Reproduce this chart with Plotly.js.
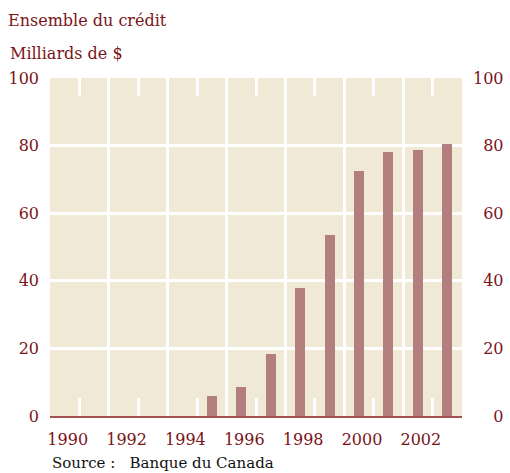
<!DOCTYPE html>
<html>
<head>
<meta charset="utf-8">
<script src="https://cdn.plot.ly/plotly-3.0.1.min.js"></script>
<style>
  html, body { margin: 0; padding: 0; background: #ffffff; }
  #chart { width: 510px; height: 473px; }
</style>
</head>
<body>
<div id="chart"></div>
<script>
// Data
const years = [1995, 1996, 1997, 1998, 1999, 2000, 2001, 2002, 2003];
const credit = [5.8, 8.5, 18.2, 38.0, 53.5, 72.6, 78.2, 78.7, 80.4];
const xTickYears = [1990, 1992, 1994, 1996, 1998, 2000, 2002];
const xTickLabels = ['1990', '1992', '1994', '1996', '1998', '2000', '2002'];
const yTicks = [0, 20, 40, 60, 80, 100];
const gridYears = [1991.5, 1993.5, 1995.5, 1997.5, 1999.5, 2001.5];
const shortTickYears = [1990.5, 1992.5, 1994.5, 1996.5, 1998.5, 2000.5, 2002.5];
const titleText = 'Ensemble du crédit';
const unitText = 'Milliards de $';
const sourceText = 'Source :\u00a0\u00a0\u00a0Banque du Canada';

const darkRed = '#7a1419';
const beige = '#efe9d6';
const barColor = '#b27f7e';
const fontFam = 'DejaVu Serif, serif';
const xRange = [1989.5, 2003.5];

const rightLabels = yTicks.map(v => String(v).padStart(3, '\u2007'));

const traces = [
  {
    type: 'bar', x: years, y: credit, width: 0.34,
    marker: { color: barColor, line: { width: 0 } },
    hoverinfo: 'skip', xaxis: 'x', yaxis: 'y'
  },
  { type: 'scatter', mode: 'markers', x: [], y: [], xaxis: 'x2', yaxis: 'y', hoverinfo: 'skip', showlegend: false },
  { type: 'scatter', mode: 'markers', x: [], y: [], xaxis: 'x3', yaxis: 'y', hoverinfo: 'skip', showlegend: false },
  { type: 'scatter', mode: 'markers', x: [], y: [], xaxis: 'x', yaxis: 'y2', hoverinfo: 'skip', showlegend: false }
];

const layout = {
  width: 510, height: 473,
  margin: { l: 50, r: 48, t: 78, b: 57, pad: 0 },
  paper_bgcolor: '#ffffff',
  plot_bgcolor: beige,
  showlegend: false,
  bargap: 0,
  font: { family: fontFam, color: darkRed, size: 16 },
  xaxis: {
    range: xRange, tickmode: 'array', tickvals: xTickYears, ticktext: xTickLabels,
    showgrid: false, zeroline: false, ticks: '',
    showline: true, linecolor: '#a4524f', linewidth: 2,
    tickfont: { family: fontFam, color: darkRed, size: 16 },
    ticklabelshift: 3, ticklabelstandoff: 8,
    minor: { tickmode: 'array', tickvals: gridYears, showgrid: true, gridcolor: '#ffffff', gridwidth: 3, ticks: '' },
    fixedrange: true
  },
  xaxis2: {
    overlaying: 'x', side: 'bottom', range: xRange,
    tickmode: 'array', tickvals: shortTickYears, showticklabels: false,
    showgrid: false, zeroline: false, showline: false,
    ticks: 'inside', ticklen: 18, tickwidth: 3, tickcolor: '#ffffff',
    fixedrange: true
  },
  xaxis3: {
    overlaying: 'x', side: 'top', range: xRange,
    tickmode: 'array', tickvals: shortTickYears, showticklabels: false,
    showgrid: false, zeroline: false, showline: false,
    ticks: 'inside', ticklen: 18, tickwidth: 3, tickcolor: '#ffffff',
    fixedrange: true
  },
  yaxis: {
    range: [0, 100], tickmode: 'array', tickvals: yTicks,
    showgrid: true, gridcolor: '#ffffff', gridwidth: 3,
    zeroline: false, ticks: '', showline: false,
    tickfont: { family: fontFam, color: darkRed, size: 16 },
    ticklabelstandoff: 10,
    fixedrange: true
  },
  yaxis2: {
    overlaying: 'y', side: 'right', range: [0, 100],
    tickmode: 'array', tickvals: yTicks, ticktext: rightLabels,
    showgrid: false, zeroline: false, ticks: '', showline: false,
    tickfont: { family: fontFam, color: darkRed, size: 16 },
    ticklabelstandoff: 10,
    fixedrange: true
  },
  annotations: [
    { text: titleText, xref: 'paper', yref: 'paper', x: 0, y: 1, xanchor: 'left', yanchor: 'middle',
      xshift: -44, yshift: 58, showarrow: false, font: { family: fontFam, color: darkRed, size: 16 } },
    { text: unitText, xref: 'paper', yref: 'paper', x: 0, y: 1, xanchor: 'left', yanchor: 'middle',
      xshift: -42, yshift: 25, showarrow: false, font: { family: fontFam, color: darkRed, size: 16 } },
    { text: sourceText, xref: 'paper', yref: 'paper', x: 0, y: 0, xanchor: 'left', yanchor: 'middle',
      xshift: 0, yshift: -47, showarrow: false, font: { family: fontFam, color: '#111111', size: 15 } }
  ]
};

Plotly.newPlot('chart', traces, layout, { staticPlot: true, displayModeBar: false });
</script>
</body>
</html>
